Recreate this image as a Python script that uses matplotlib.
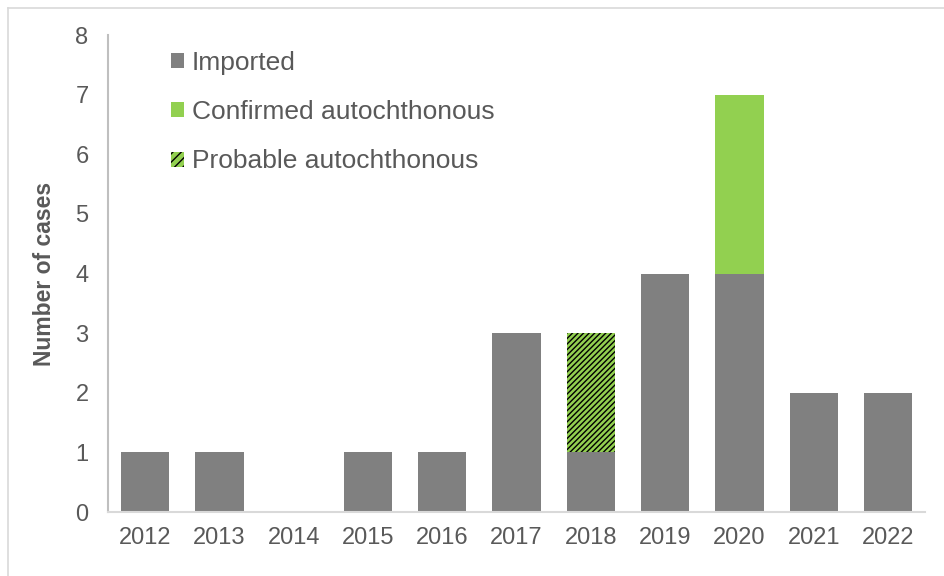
import matplotlib
matplotlib.use("Agg")
import matplotlib.pyplot as plt
from matplotlib.patches import Patch
from matplotlib.lines import Line2D

plt.rcParams['font.family'] = ['Liberation Sans', 'DejaVu Sans']
plt.rcParams['hatch.linewidth'] = 1.0

years = ['2012', '2013', '2014', '2015', '2016', '2017', '2018', '2019', '2020', '2021', '2022']
imported = [1, 1, 0, 1, 1, 3, 1, 4, 4, 2, 2]
confirmed = [0, 0, 0, 0, 0, 0, 0, 0, 3, 0, 0]
probable = [0, 0, 0, 0, 0, 0, 2, 0, 0, 0, 0]

GRAY = '#808080'
GREEN = '#92D050'
TXT = '#595959'

fig = plt.figure(figsize=(9.45, 5.76), dpi=100)
ax = fig.add_axes([0.1143, 0.111, 0.8647, 0.828])

x = list(range(len(years)))
w = 0.65
ax.bar(x, imported, width=w, color=GRAY, linewidth=0)
ax.bar(x, confirmed, width=w, bottom=imported, color=GREEN, linewidth=0)
ax.bar(x, probable, width=w, bottom=imported, color=GREEN, edgecolor='black',
       hatch='//////', linewidth=0)

ax.set_xlim(-0.5, len(years) - 0.5)
ax.set_ylim(0, 8)
ax.set_xticks(x)
ax.set_xticklabels(years)
ax.set_yticks(range(0, 9))
ax.tick_params(axis='both', length=0, labelsize=17, colors=TXT)
ax.tick_params(axis='x', pad=11)
ax.tick_params(axis='y', pad=14)
for s in ['top', 'right']:
    ax.spines[s].set_visible(False)
ax.spines['left'].set_color('#BFBFBF')
ax.spines['left'].set_linewidth(1.5)
ax.spines['bottom'].set_color('#D9D9D9')
ax.spines['bottom'].set_linewidth(1.5)

ax.set_ylabel('Number of cases', fontsize=16.5, fontweight='bold', color=TXT, labelpad=14)

handles = [Patch(facecolor=GRAY, linewidth=0),
           Patch(facecolor=GREEN, linewidth=0),
           Patch(facecolor=GREEN, edgecolor='black', hatch='////', linewidth=0)]
labels = ['Imported', 'Confirmed autochthonous', 'Probable autochthonous']
leg = ax.legend(handles, labels, loc='upper left', bbox_to_anchor=(0.048, 1.016),
                frameon=False, fontsize=19, handlelength=0.5, handleheight=0.5,
                handletextpad=0.3, labelspacing=0.95, labelcolor=TXT)

# figure border (left and top visible)
fig.add_artist(Line2D([8/945, 8/945], [0, 1 - 8/576], transform=fig.transFigure,
                      color='#D9D9D9', linewidth=1.2))
fig.add_artist(Line2D([8/945, 1], [1 - 8/576, 1 - 8/576], transform=fig.transFigure,
                      color='#D9D9D9', linewidth=1.2))

fig.savefig('out.png', dpi=100)
